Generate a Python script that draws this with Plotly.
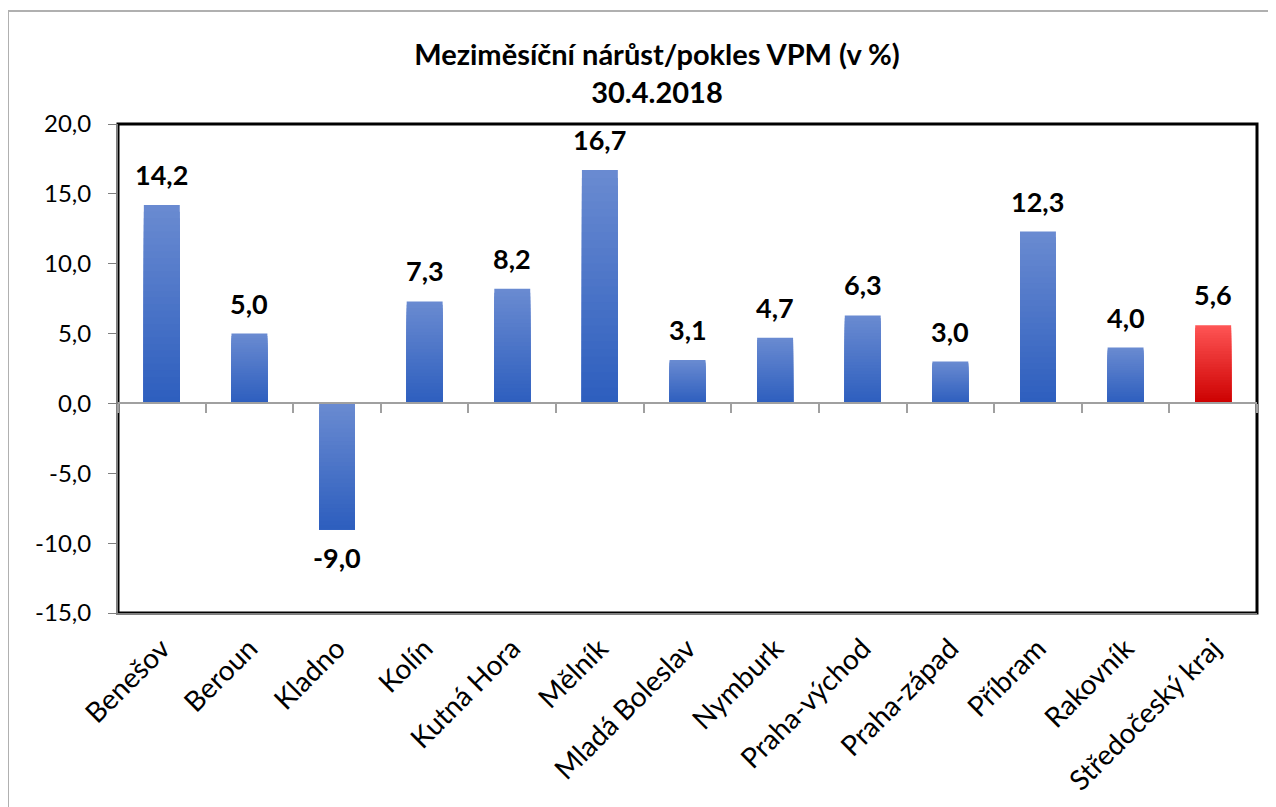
import plotly.graph_objects as go

categories = ["Benešov", "Beroun", "Kladno", "Kolín", "Kutná Hora", "Mělník",
              "Mladá Boleslav", "Nymburk", "Praha-východ", "Praha-západ",
              "Příbram", "Rakovník", "Středočeský kraj"]
values = [14.2, 5.0, -9.0, 7.3, 8.2, 16.7, 3.1, 4.7, 6.3, 3.0, 12.3, 4.0, 5.6]
labels = ["14,2", "5,0", "-9,0", "7,3", "8,2", "16,7", "3,1", "4,7", "6,3", "3,0", "12,3", "4,0", "5,6"]
highlight = "Středočeský kraj"
y_ticks = [-15, -10, -5, 0, 5, 10, 15, 20]
y_tick_text = ["-15,0", "-10,0", "-5,0", "0,0", "5,0", "10,0", "15,0", "20,0"]

BLUE_TOP, BLUE_BOT = (106, 139, 209), (45, 94, 190)
RED_TOP, RED_BOT = (255, 85, 85), (204, 0, 0)
NSEG = 30
FONT = "Lato"


def mix(a, b, t):
    return "rgb(%d,%d,%d)" % tuple(round(a[i] + (b[i] - a[i]) * t) for i in range(3))


fig = go.Figure()
idx = list(range(len(categories)))

# gradient bars: overlapping bars, each later one covering the lower part (top light -> bottom dark)
for k in range(NSEG):
    bases, heights, colors = [], [], []
    for c, v in zip(categories, values):
        top_c, bot_c = (RED_TOP, RED_BOT) if c == highlight else (BLUE_TOP, BLUE_BOT)
        hi = max(v, 0.0)
        lo = min(v, 0.0)
        span = hi - lo
        seg_top = hi - span * k / NSEG
        bases.append(lo)
        heights.append(seg_top - lo)
        colors.append(mix(top_c, bot_c, (k + 0.5) / NSEG))
    fig.add_trace(go.Bar(x=idx, y=heights, base=bases, marker=dict(color=colors, line=dict(width=0)),
                         width=0.41, showlegend=False, hoverinfo="skip"))

# invisible trace on x2 so the zero-line axis renders
fig.add_trace(go.Scatter(x=[0], y=[0], xaxis="x2", mode="markers", marker=dict(opacity=0),
                         showlegend=False, hoverinfo="skip"))

annotations = []
for i, v, t in zip(idx, values, labels):
    annotations.append(dict(x=i, y=v, xref="x", yref="y", text="<b>%s</b>" % t, showarrow=False,
                            yanchor="bottom" if v >= 0 else "top", yshift=12 if v >= 0 else -10,
                            font=dict(family=FONT, size=27, color="black")))

W, H = 1276, 807
L, R, T, B = 110, 27, 116, 202
pw, ph = W - L - R, H - T - B
zero_frac = (0 - (-15)) / (20 - (-15))

fig.update_layout(
    width=W, height=H,
    margin=dict(l=L, r=R, t=T, b=B),
    paper_bgcolor="white", plot_bgcolor="white",
    barmode="overlay",
    font=dict(family=FONT, color="black"),
    title=dict(text="<b>Meziměsíční nárůst/pokles VPM (v %)<br>30.4.2018</b>",
               x=649 / W, xanchor="center", xref="container", y=1 - 57 / H, yanchor="top",
               font=dict(family=FONT, size=29, color="black")),
    annotations=annotations,
    xaxis=dict(range=[-0.5, len(categories) - 0.5], tickvals=idx, ticktext=categories,
               tickangle=-45, tickfont=dict(family=FONT, size=28, color="black"),
               showline=True, linecolor="#7f7f7f", linewidth=2, ticks="outside", ticklen=6,
               tickcolor="rgba(0,0,0,0)", showgrid=False, zeroline=False),
    xaxis2=dict(overlaying="x", anchor="free", position=zero_frac,
                range=[-0.5, len(categories) - 0.5],
                tickvals=[i - 0.5 for i in range(len(categories) + 1)],
                showticklabels=False, ticks="outside", ticklen=9, tickcolor="#a0a0a0", tickwidth=2,
                showline=True, linecolor="#a0a0a0", linewidth=2, showgrid=False, zeroline=False, side="bottom"),
    yaxis=dict(range=[-15, 20], tickvals=y_ticks, ticktext=y_tick_text,
               tickfont=dict(family=FONT, size=24, color="black"), ticklabelstandoff=12,
               ticks="outside", ticklen=8, tickcolor="#7f7f7f", tickwidth=1,
               showline=True, linecolor="#7f7f7f", linewidth=2, showgrid=False, zeroline=False),
    shapes=[
        dict(type="rect", xref="paper", yref="paper", x0=0, x1=1, y0=0, y1=1,
             line=dict(color="black", width=3), layer="below"),
        dict(type="rect", xref="paper", yref="paper",
             x0=(0 - L) / pw, x1=(W + 20 - L) / pw, y0=(H - B - (H + 20)) / ph, y1=(H - B - 3) / ph,
             line=dict(color="#b0b0b0", width=2), layer="below"),
    ],
)

fig.write_html("out.html")
